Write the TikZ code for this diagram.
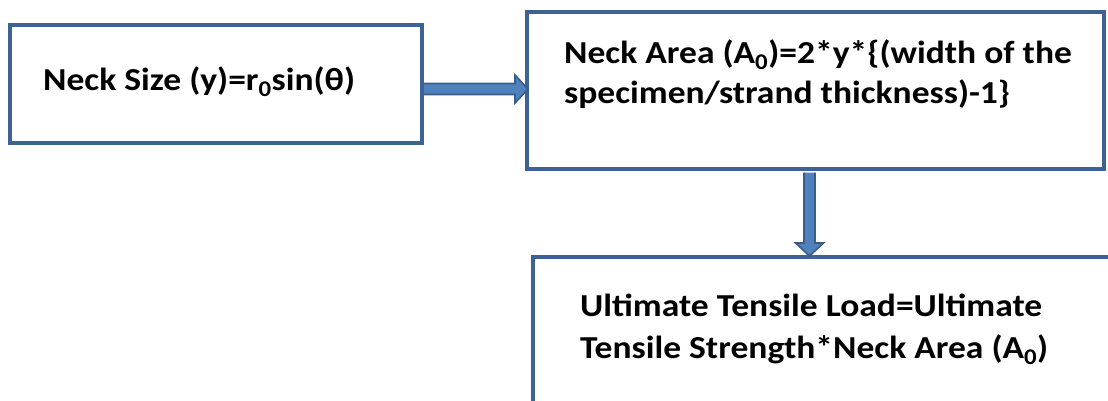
\documentclass[tikz,border=0pt]{standalone}
\usepackage{fontspec}
\setmainfont[FakeStretch=1.11]{Carlito}
\usetikzlibrary{calc}
\definecolor{boxline}{HTML}{3D6294}
\definecolor{arrowfill}{HTML}{4F81BD}
\definecolor{arrowline}{HTML}{385D8A}
\tikzset{
  box/.style={draw=boxline, line width=4pt, fill=white, rectangle, inner sep=0pt},
  txt/.style={inner sep=0pt, anchor=base west, align=left,
    font=\bfseries\fontsize{32}{40}\selectfont},
  blockarrow/.style={fill=arrowfill, draw=arrowline, line width=1.6pt, line join=miter}
}
\begin{document}
\begin{tikzpicture}[x=1pt, y=-1pt]
  \useasboundingbox (0,0) rectangle (1108,400);
  \clip (0,0) rectangle (1108,400);

  % the three boxes
  \node[box, minimum width=412pt, minimum height=118pt] (b1) at (216,84) {};
  \node[box, minimum width=577pt, minimum height=157pt] (b2) at (815,90) {};
  \node[box, minimum width=600pt, minimum height=180pt] (b3) at (833,346.5) {};

  % their texts (the base anchor sits on the last line)
  \node[txt] (t1) at (43,90) {Neck Size (y)=r\textsubscript{0}sin(θ)};
  \node[txt] (t2) at (564,103) {Neck Area (A\textsubscript{0})=2*y*\{(width of the\\specimen/strand thickness)-1\}};
  \node[txt, font=\bfseries\fontsize{32}{42}\selectfont] (t3) at (580,358)
    {Ultimate Tensile Load=Ultimate\\Tensile Strength*Neck Area (A\textsubscript{0})};

  % block arrow from box 1 to box 2
  \coordinate (hs) at ($(b1.east |- 0,89)$);
  \coordinate (he) at ($(b2.west |- 0,89)+(3.5,0)$);
  \draw[blockarrow]
    ($(hs)+(0,-5.5)$) -- ($(he)+(-13,-5.5)$) -- ($(he)+(-13,-14)$) -- (he)
    -- ($(he)+(-13,14)$) -- ($(he)+(-13,5.5)$) -- ($(hs)+(0,5.5)$);

  % block arrow from box 2 to box 3
  \coordinate (vs) at ($(b2.south -| 809.5,0)+(0,2)$);
  \coordinate (ve) at ($(b3.north -| 809.5,0)+(0,1.5)$);
  \draw[blockarrow]
    ($(vs)+(-5.5,0)$) -- ($(ve)+(-5.5,-13)$) -- ($(ve)+(-14,-13)$) -- (ve)
    -- ($(ve)+(14,-13)$) -- ($(ve)+(5.5,-13)$) -- ($(vs)+(5.5,0)$);
\end{tikzpicture}
\end{document}
